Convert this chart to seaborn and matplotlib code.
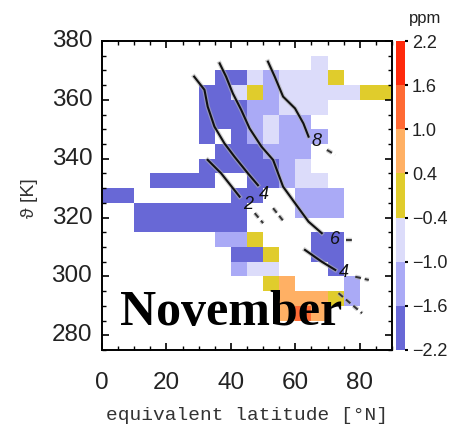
import numpy as np
import pandas as pd
import matplotlib
matplotlib.use('Agg')
import matplotlib.pyplot as plt
import matplotlib.patheffects as pe
import seaborn as sns
from matplotlib.colors import ListedColormap, BoundaryNorm

# grid: 5 deg latitude x 5 K theta bins
lat_edges = np.arange(0, 95, 5)
theta_tops = np.arange(380, 275, -5)          # top edge of each row, 380 .. 280

# ozone change per cell, coded by colour class ('.' = no data)
code_value = {'D': -1.9, 'M': -1.3, 'L': -0.7, 'Y': 0.0, 'O': 0.7, 'R': 1.3}
cell_rows = [
    "..................",   # 375-380
    ".............L....",   # 370-375
    ".......DDLMLLLY...",   # 365-370
    "......DDLYMLLLLLYY",   # 360-365
    "......DDDMMLLL....",   # 355-360
    "......DDDMLMM.....",   # 350-355
    "......D.DMLMMM....",   # 345-350
    ".......DDDMMM.....",   # 340-345
    "......DDDDDML.....",   # 335-340
    "...DDDD..DDMLL....",   # 330-335
    "DD......DD..MMM...",   # 325-330
    "..DDDDDDD...MMM...",   # 320-325
    "..DDDDDDD.........",   # 315-320
    ".......MMY...DD...",   # 310-315
    "........DDY..DD...",   # 305-310
    "........MLL...D...",   # 300-305
    "..........YO...M..",   # 295-300
    "...........OOOYM..",   # 290-295
    "...........ORO....",   # 285-290
    "..................",   # 280-285
    "..................",   # 275-280
]

levels = [-2.2, -1.6, -1.0, -0.4, 0.4, 1.0, 1.6, 2.2]
level_colors = ['#6868d6', '#aaaaf6', '#dcdcfa', '#e0cc2c', '#ffb064', '#ff6a34', '#ff2a0c']

# PV contours (lat, theta)
c8_lat = [51.5, 53.6, 56.2, 59.9, 62.5, 64.1]
c8_th = [373.0, 367.9, 361.1, 357.1, 352.0, 347.5]
c6_lat = [36.5, 38.5, 40.6, 43.2, 45.8, 49.5, 53.1, 56.2, 59.9, 64.1, 68.2]
c6_th = [372.4, 367.9, 362.2, 356.6, 350.3, 344.1, 339.6, 330.5, 324.9, 318.6, 314.7]
c4_lat = [28.6, 31.8, 32.8, 34.9, 38.0, 41.1, 45.3, 48.4]
c4_th = [367.9, 363.4, 357.7, 350.9, 345.2, 340.7, 335.0, 331.0]
c4b_lat = [63.0, 68.2, 72.4]
c4b_th = [309.0, 305.0, 302.2]
c2_lat = [32.8, 37.0, 42.7]
c2_th = [339.6, 335.0, 327.1]
# dashed tails
tails = [
    ([69.8, 72.4], [343.0, 341.3]),
    ([75.8, 77.6], [312.4, 312.4]),
    ([53.1, 56.8], [323.2, 318.1]),
    ([78.6, 82.8], [299.9, 298.8]),
    ([47.4, 50.0], [321.5, 318.1]),
    ([73.4, 80.7], [294.3, 287.5]),
]
contour_labels = [('8', 66.7, 345.8), ('6', 72.4, 312.6), ('4', 50.3, 327.8),
                  ('4', 75.0, 301.4), ('2', 45.3, 324.6)]

xticks = [0, 20, 40, 60, 80]
yticks = [380, 360, 340, 320, 300, 280]


def to_ix(lat):
    return np.asarray(lat) / 5.0


def to_iy(theta):
    return (380.0 - np.asarray(theta)) / 5.0


grid = [[code_value.get(c, np.nan) for c in row] for row in cell_rows]
df = pd.DataFrame(grid, index=theta_tops, columns=lat_edges[:-1])

cmap = ListedColormap(level_colors)
norm = BoundaryNorm(levels, cmap.N)

fig = plt.figure(figsize=(4.59, 4.30), dpi=100)
ax = fig.add_axes([102 / 459, 80 / 430, 290 / 459, 309 / 430])
cax = fig.add_axes([396 / 459, 80 / 430, 9 / 459, 309 / 430])

num_font = ['Liberation Sans', 'DejaVu Sans']

sns.heatmap(df, ax=ax, cmap=cmap, norm=norm, cbar_ax=cax,
            cbar_kws={'ticks': levels, 'spacing': 'uniform'})

halo = [pe.Stroke(linewidth=3.2, foreground='#b0b0b0', alpha=0.6), pe.Normal()]
for lat, th in [(c8_lat, c8_th), (c6_lat, c6_th), (c4_lat, c4_th),
                (c4b_lat, c4b_th), (c2_lat, c2_th)]:
    sns.lineplot(x=to_ix(lat), y=to_iy(th), sort=False, estimator=None,
                 color='#111111', lw=1.5, ax=ax, path_effects=halo)
for lat, th in tails:
    sns.lineplot(x=to_ix(lat), y=to_iy(th), sort=False, estimator=None,
                 color='#333333', lw=1.4, ls=(0, (3, 2)), ax=ax, path_effects=halo)
for txt, lat, th in contour_labels:
    ax.text(to_ix(lat), to_iy(th), txt, fontsize=13, style='italic',
            ha='center', va='center', color='#111111', family=num_font)

ax.text(to_ix(5.7), to_iy(283.5), 'November', fontsize=36, fontweight='bold',
        family=['Liberation Serif', 'DejaVu Serif'], ha='left', va='baseline')

ax.set_xlim(0, 18)
ax.set_ylim(21, 0)
for s in ax.spines.values():
    s.set_visible(True)
    s.set_linewidth(1.4)
    s.set_color('black')

ax.set_xticks(to_ix(xticks))
ax.set_xticklabels([str(v) for v in xticks], rotation=0)
ax.set_yticks(to_iy(yticks))
ax.set_yticklabels([str(v) for v in yticks], rotation=0)
ax.set_xticks(np.arange(0, 19), minor=True)
ax.set_yticks(np.arange(0, 22), minor=True)
ax.tick_params(which='both', direction='in', top=True, right=True, color='black')
ax.tick_params(which='major', length=5, width=1.2)
ax.tick_params(which='minor', length=3, width=1.0)
ax.tick_params(axis='x', which='major', pad=16, labelsize=17.5)
ax.tick_params(axis='y', which='major', pad=7, labelsize=17.5)
for lab in ax.get_xticklabels() + ax.get_yticklabels():
    lab.set_family(num_font)
    lab.set_color('#222222')
ax.set_xlabel('')
ax.set_ylabel('')

cax.tick_params(length=2, width=1.5, pad=3, labelsize=13, color='black')
cax.set_yticklabels(['\u22122.2', '\u22121.6', '\u22121.0', '\u22120.4', '0.4', '1.0', '1.6', '2.2'])
for lab in cax.get_yticklabels():
    lab.set_family(num_font)
    lab.set_color('#222222')
fig.text(425 / 459, 1 - 18 / 430, 'ppm', fontsize=12,
         family=num_font, color='#222222', ha='center', va='center')

fig.text(247 / 459, 1 - 415 / 430, 'equivalent latitude [\u00b0N]', fontsize=14,
         family=['Liberation Mono', 'DejaVu Sans Mono'], ha='center', va='center',
         color='#333333')
fig.text(30 / 459, 1 - 198 / 430, '\u03d1 [K]', fontsize=14, rotation=90,
         family=num_font, ha='center', va='center', color='#333333')

fig.savefig('out.png', dpi=100)
